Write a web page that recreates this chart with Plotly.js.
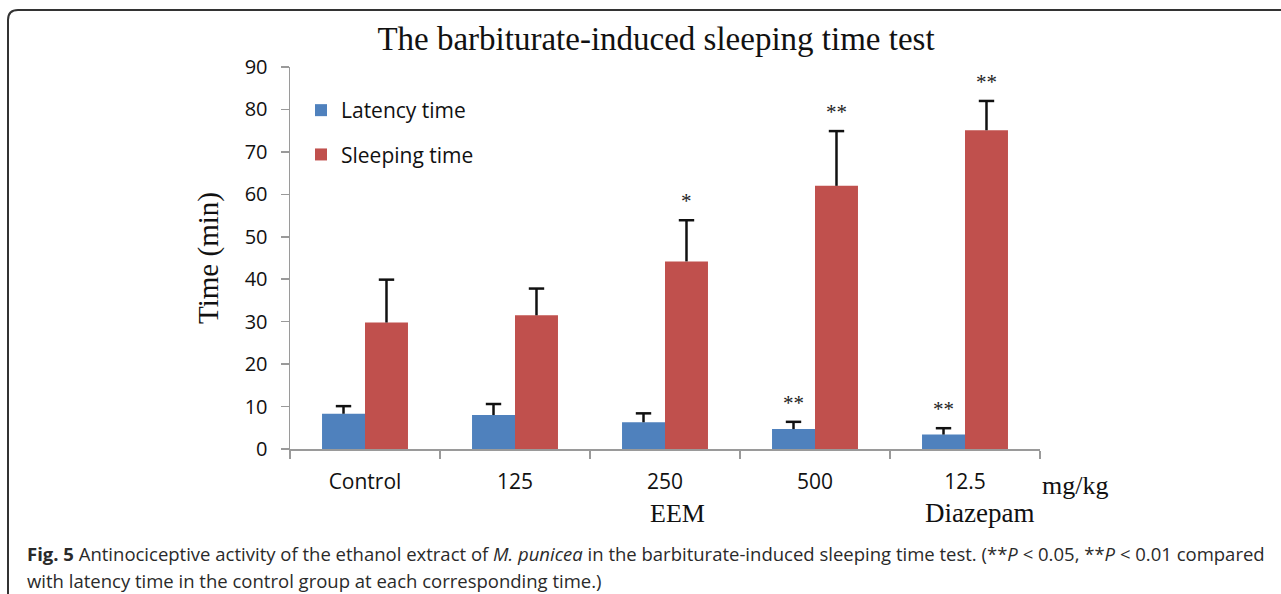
<!DOCTYPE html>
<html>
<head>
<meta charset="utf-8">
<script src="https://cdn.plot.ly/plotly-3.0.1.min.js"></script>
<style>html,body{margin:0;padding:0;background:#fff;}#chart{width:1281px;height:594px;}</style>
</head>
<body>
<div id="chart"></div>
<script>
const categories = ["Control", "125", "250", "500", "12.5"];
const latency = [8.3, 8.0, 6.3, 4.7, 3.4];
const latencyErr = [1.8, 2.6, 2.1, 1.7, 1.5];
const sleeping = [29.8, 31.5, 44.2, 62.0, 75.1];
const sleepingErr = [10.1, 6.3, 9.7, 12.9, 6.9];
const latencyMarks = ["", "", "", "**", "**"];
const sleepingMarks = ["", "", "*", "**", "**"];
const yTicks = [0, 10, 20, 30, 40, 50, 60, 70, 80, 90];
const groupLabels = ["EEM", "Diazepam"];
const unitLabel = "mg/kg";

const W = 1281, H = 594;
const M = {l: 290, r: 241, t: 67, b: 145};
const PW = W - M.l - M.r, PH = H - M.t - M.b;
const px = x => (x - M.l) / PW;
const py = y => (H - M.b - y) / PH;

const sans = "Open Sans, sans-serif";
const serif = "Liberation Serif, Times New Roman, serif";

const BARGAP = 0.427;
const half = (1 - BARGAP) / 4; // offset of each bar centre from category centre
const idx = categories.map((c, i) => i);
const zeros = categories.map(() => 0);

const traces = [
  {type: "bar", name: "Latency time", x: categories, y: latency, legendgroup: "a",
   marker: {color: "#4F81BD"},
   error_y: {type: "data", symmetric: false, array: latencyErr, arrayminus: zeros, color: "#111", thickness: 2.5, width: 0},
   hoverinfo: "skip"},
  {type: "bar", name: "Sleeping time", x: categories, y: sleeping, legendgroup: "b",
   marker: {color: "#C0504D"},
   error_y: {type: "data", symmetric: false, array: sleepingErr, arrayminus: zeros, color: "#111", thickness: 2.5, width: 0},
   hoverinfo: "skip"},
  // error bar caps (top only)
  {type: "scatter", mode: "markers", xaxis: "x2", yaxis: "y", showlegend: false, hoverinfo: "skip",
   x: idx.map(i => i - half), y: latency.map((v, i) => v + latencyErr[i]),
   marker: {symbol: "line-ew-open", size: 11, color: "#111", line: {color: "#111", width: 2.5}}},
  {type: "scatter", mode: "markers", xaxis: "x2", yaxis: "y", showlegend: false, hoverinfo: "skip",
   x: idx.map(i => i + half), y: sleeping.map((v, i) => v + sleepingErr[i]),
   marker: {symbol: "line-ew-open", size: 11, color: "#111", line: {color: "#111", width: 2.5}}}
];

const annotations = [];
categories.forEach((c, i) => {
  if (latencyMarks[i]) annotations.push({x: i - half, y: latency[i] + latencyErr[i], xref: "x2", yref: "y",
    text: latencyMarks[i], showarrow: false, yanchor: "bottom", yshift: 5, font: {family: serif, size: 21, color: "#222"}});
  if (sleepingMarks[i]) annotations.push({x: i + half, y: sleeping[i] + sleepingErr[i], xref: "x2", yref: "y",
    text: sleepingMarks[i], showarrow: false, yanchor: "bottom", yshift: 5, font: {family: serif, size: 21, color: "#222"}});
});
annotations.push({xref: "paper", yref: "paper", x: px(1040), y: py(485), xanchor: "left", yanchor: "middle",
  text: unitLabel, showarrow: false, font: {family: serif, size: 26, color: "#111"}});
annotations.push({xref: "paper", yref: "paper", x: px(677), y: py(513), xanchor: "center", yanchor: "middle",
  text: groupLabels[0], showarrow: false, font: {family: serif, size: 26, color: "#111"}});
annotations.push({xref: "paper", yref: "paper", x: px(979), y: py(513), xanchor: "center", yanchor: "middle",
  text: groupLabels[1], showarrow: false, font: {family: serif, size: 27, color: "#111"}});
annotations.push({xref: "paper", yref: "paper", x: px(25), y: py(553), xanchor: "left", yanchor: "middle",
  text: "<b>Fig. 5</b> Antinociceptive activity of the ethanol extract of <i>M. punicea</i> in the barbiturate-induced sleeping time test. (**<i>P</i> &lt; 0.05, **<i>P</i> &lt; 0.01 compared",
  showarrow: false, font: {family: sans, size: 18.5, color: "#2a2a2a"}});
annotations.push({xref: "paper", yref: "paper", x: px(25), y: py(580), xanchor: "left", yanchor: "middle",
  text: "with latency time in the control group at each corresponding time.)",
  showarrow: false, font: {family: sans, size: 18.5, color: "#2a2a2a"}});

// rounded frame
const bx0 = px(8), by0 = py(10), rX = 10 / PW, rY = 10 / PH;
const frame = {type: "path", xref: "paper", yref: "paper", layer: "below",
  path: `M ${bx0} ${py(600)} L ${bx0} ${by0 - rY} Q ${bx0} ${by0} ${bx0 + rX} ${by0} L ${px(1290)} ${by0}`,
  line: {color: "#333", width: 2}};

const layout = {
  width: W, height: H, margin: M,
  paper_bgcolor: "#fff", plot_bgcolor: "#fff",
  barmode: "group", bargap: BARGAP, bargroupgap: 0,
  title: {text: "The barbiturate-induced sleeping time test", x: 656 / W, xanchor: "center", y: 1 - 38 / H, yanchor: "middle",
    font: {family: serif, size: 33, color: "#111"}},
  xaxis: {type: "category", range: [-0.5, 4.5], showline: true, linecolor: "#9a9a9a", linewidth: 1.5,
    ticks: "outside", tickson: "boundaries", ticklen: 8, tickcolor: "#9a9a9a", tickwidth: 1.5,
    showgrid: false, zeroline: false, ticklabelstandoff: 13,
    tickfont: {family: sans, size: 21, color: "#111"}},
  xaxis2: {overlaying: "x", range: [-0.5, 4.5], visible: false, showgrid: false, zeroline: false},
  yaxis: {range: [0, 90], tickvals: yTicks, showline: true, linecolor: "#9a9a9a", linewidth: 1.5,
    ticks: "outside", ticklen: 8, tickcolor: "#9a9a9a", tickwidth: 1.5, showgrid: false, zeroline: false,
    ticklabelstandoff: 9,
    tickfont: {family: sans, size: 20, color: "#111"},
    title: {text: "Time (min)", standoff: 17, font: {family: serif, size: 29, color: "#111"}}},
  showlegend: true,
  legend: {x: px(301), y: py(90), xanchor: "left", yanchor: "top", traceorder: "grouped", tracegroupgap: 14,
    bgcolor: "rgba(0,0,0,0)", font: {family: sans, size: 21, color: "#111"}, itemwidth: 30},
  annotations: annotations,
  shapes: [frame]
};

Plotly.newPlot("chart", traces, layout, {staticPlot: true, displayModeBar: false});
</script>
</body>
</html>
